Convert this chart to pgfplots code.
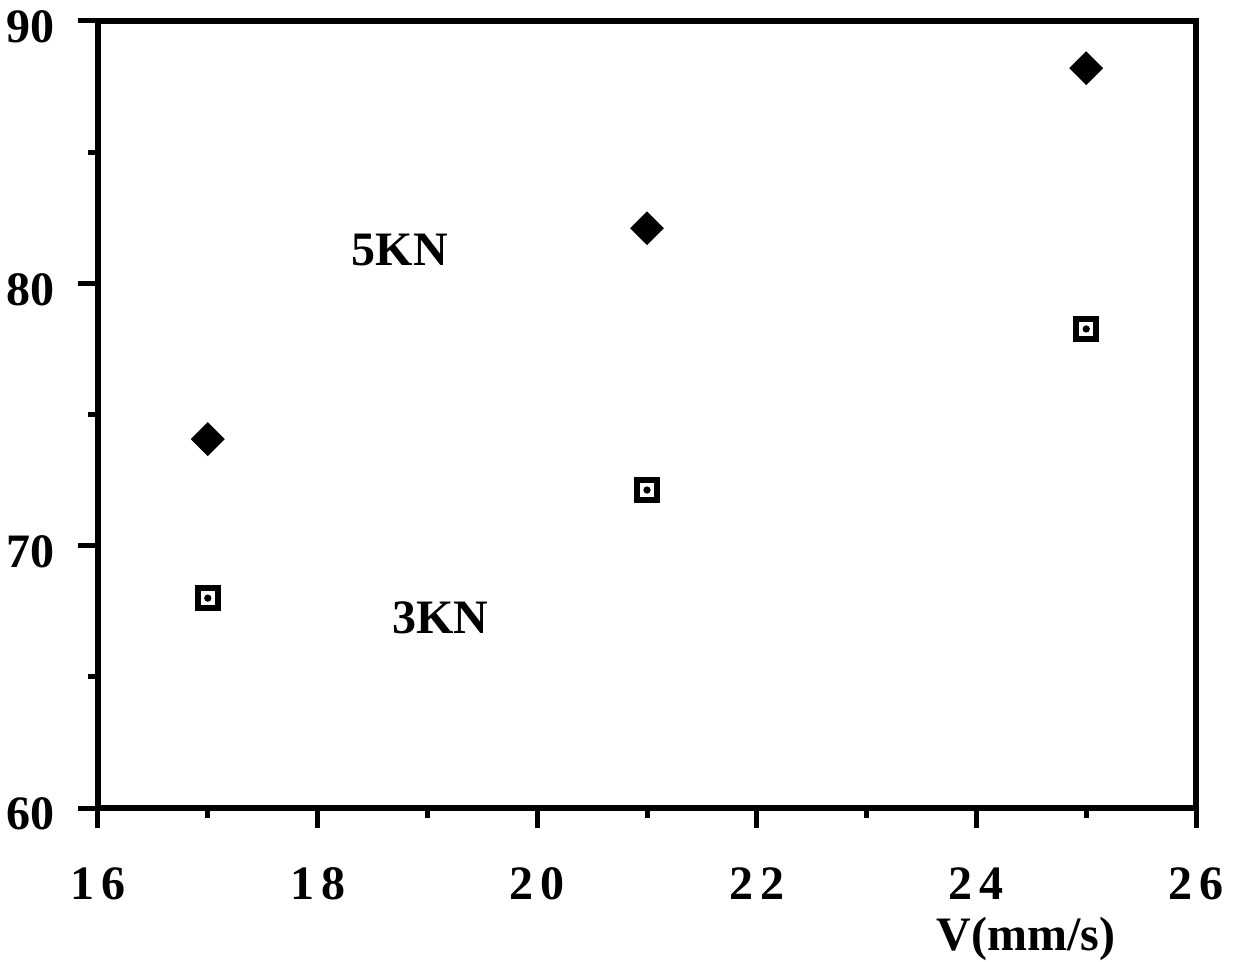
\documentclass[border=0pt]{standalone}
\usepackage{pgfplots}
\pgfplotsset{compat=1.18}
\usepackage{fontspec}
\setmainfont{Liberation Serif}

\newcommand{\bigbold}{\fontsize{24}{28}\selectfont\bfseries}

\begin{document}
\begin{tikzpicture}
\begin{axis}[
  name=ax,
  scale only axis,
  width=549pt, height=393.5pt,
  xmin=16, xmax=26, ymin=60, ymax=90,
  xtick={16,18,...,26},
  xticklabels={1\kern3.5pt6, 1\kern3.5pt8, 2\kern3.5pt0, 2\kern3.5pt2, 2\kern3.5pt4, 2\kern3.5pt6},
  minor xtick={17,19,...,25},
  ytick={60,70,80,90},
  yticklabels={60,70,80,90},
  minor ytick={65,75,85},
  tick pos=left,
  tick align=outside,
  major tick length=10pt,
  minor tick length=5pt,
  major tick style={black, line width=2.5pt},
  minor tick style={black, line width=2.5pt},
  axis line style={line width=3pt},
  ticklabel style={font=\bigbold},
  xticklabel style={yshift=-16.5pt},
  yticklabel style={xshift=-8pt, yshift=-3pt},
  xlabel={V(mm/s)},
  xlabel style={font=\bigbold, at={(axis description cs:0.845,0)}, anchor=base, yshift=-71pt},
  clip=false,
]
% 5 kN: filled diamonds with softened corners
\addplot[only marks, mark=square*, mark size=5.6pt,
  mark options={rotate=45, rounded corners=2.5pt, fill=black, draw=black, line width=0.8pt}]
  coordinates {(17,74.06) (21,82.1) (25,88.2)};
% 3 kN: open squares with a centre dot
\addplot[only marks, mark=square, mark size=5pt,
  mark options={line width=3pt, draw=black}]
  coordinates {(17,68.0) (21,72.12) (25,78.26)};
\addplot[only marks, mark=*, mark size=1.6pt, black]
  coordinates {(17,68.0) (21,72.12) (25,78.26)};

\node[font=\bigbold] at (axis cs:18.75,81.27) {5KN};
\node[font=\bigbold] at (axis cs:19.12,67.24) {3KN};
\end{axis}
\pgfresetboundingbox
\path[use as bounding box] (ax.south west) ++(-49pt,-77pt) rectangle ++(620pt,481pt);
\end{tikzpicture}
\end{document}
